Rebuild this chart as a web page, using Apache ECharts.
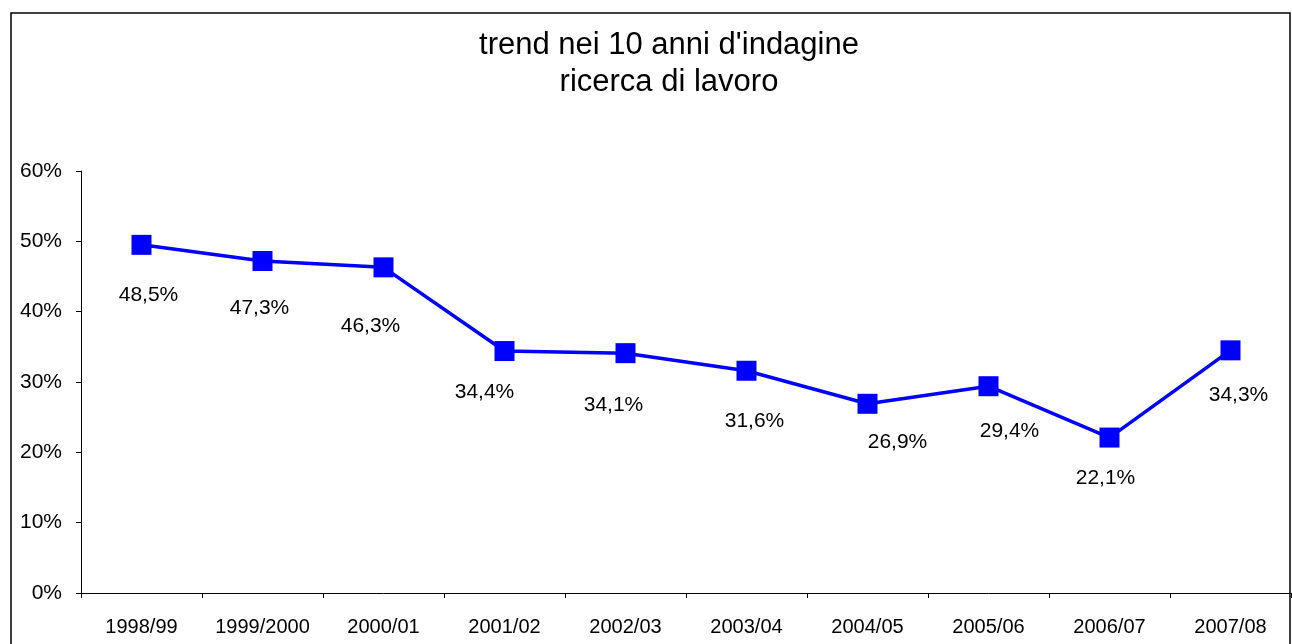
<!DOCTYPE html>
<html>
<head>
<meta charset="utf-8">
<script src="https://cdn.jsdelivr.net/npm/echarts@6/dist/echarts.min.js"></script>
<style>
  html, body { margin: 0; padding: 0; background: #fff; }
  #chart { width: 1292px; height: 644px; }
</style>
</head>
<body>
<div id="chart"></div>
<script>
// dati
const years = ['1998/99', '1999/2000', '2000/01', '2001/02', '2002/03', '2003/04', '2004/05', '2005/06', '2006/07', '2007/08'];
const values = [49.5, 47.2, 46.3, 34.4, 34.1, 31.6, 26.9, 29.4, 22.1, 34.5];
const valueLabels = ['48,5%', '47,3%', '46,3%', '34,4%', '34,1%', '31,6%', '26,9%', '29,4%', '22,1%', '34,3%'];
const yTicks = [0, 10, 20, 30, 40, 50, 60];

// spostamento delle etichette rispetto al marcatore (come nell'originale)
const labelOffsets = [[7, 50], [-3, 47], [-13, 59], [-20, 41], [-12, 52], [8, 50], [30, 38], [21, 45], [-4, 41], [8, 45]];

const chart = echarts.init(document.getElementById('chart'));

const font = 'Liberation Sans, Arial, sans-serif';

const option = {
    animation: false,
    backgroundColor: '#ffffff',
    title: {
        text: "trend nei 10 anni d'indagine\nricerca di lavoro",
        left: 664,
        top: 22,
        textAlign: 'center',
        textStyle: {
            fontFamily: font,
            fontSize: 31,
            fontWeight: 'normal',
            color: '#000',
            lineHeight: 37
        }
    },
    graphic: [
        {
            type: 'rect',
            shape: { x: 11, y: 13, width: 1279, height: 700 },
            style: { fill: 'none', stroke: '#000', lineWidth: 1.5 },
            silent: true
        }
    ],
    grid: {
        left: 81,
        right: 1,
        top: 171,
        bottom: 51
    },
    xAxis: {
        type: 'category',
        data: years,
        boundaryGap: true,
        axisLine: { lineStyle: { color: '#000', width: 1 } },
        axisTick: { show: true, length: 5, lineStyle: { color: '#000' } },
        axisLabel: {
            color: '#000',
            fontFamily: font,
            fontSize: 20,
            margin: 24,
            interval: 0
        },
        splitLine: { show: false }
    },
    yAxis: {
        type: 'value',
        min: yTicks[0],
        max: yTicks[yTicks.length - 1],
        interval: 10,
        axisLine: { show: true, lineStyle: { color: '#000', width: 1 } },
        axisTick: { show: true, length: 5, lineStyle: { color: '#000' } },
        axisLabel: {
            color: '#000',
            fontFamily: font,
            fontSize: 21,
            margin: 19,
            formatter: '{value}%'
        },
        splitLine: { show: false }
    },
    series: [
        {
            type: 'line',
            data: values.map((v, i) => ({
                value: v,
                label: {
                    show: true,
                    position: 'inside',
                    offset: labelOffsets[i],
                    formatter: valueLabels[i]
                }
            })),
            symbol: 'rect',
            symbolSize: 20,
            lineStyle: { color: '#0000ff', width: 3.5 },
            itemStyle: { color: '#0000ff' },
            label: {
                color: '#000',
                fontFamily: font,
                fontSize: 21
            },
            z: 3
        }
    ]
};

chart.setOption(option);
</script>
</body>
</html>
